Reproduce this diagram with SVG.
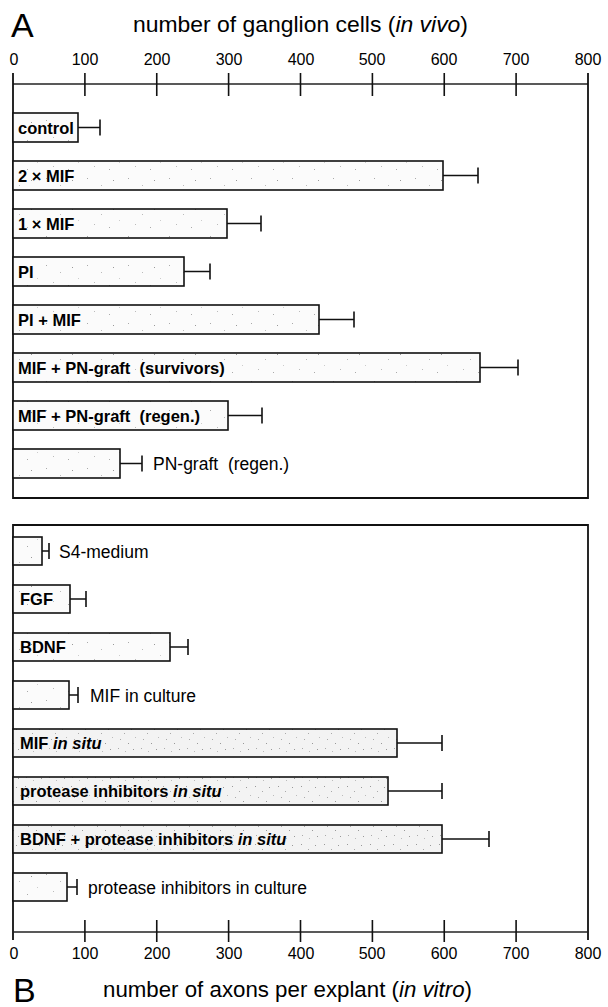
<svg xmlns="http://www.w3.org/2000/svg" width="608" height="1007" viewBox="0 0 608 1007">
  <style>
    .frame { fill: none; stroke: #111; stroke-width: 1.8; }
    .axis { fill: none; stroke: #222; stroke-width: 1.5; }
    .tick { stroke: #111; stroke-width: 1.6; }
    .bar { stroke: #111; stroke-width: 1.6; }
    .err { fill: none; stroke: #111; stroke-width: 1.6; }
    .ticklab { font-family: "Liberation Sans", Arial, sans-serif; font-size: 16px; fill: #000; text-anchor: middle; }
    .title { font-family: "Liberation Sans", Arial, sans-serif; font-size: 22.4px; fill: #000; }
    .panel { font-family: "Liberation Sans", Arial, sans-serif; font-size: 34px; fill: #000; }
    .in { font-family: "Liberation Sans", Arial, sans-serif; font-size: 16.5px; font-weight: bold; fill: #000; white-space: pre; }
    .out { font-family: "Liberation Sans", Arial, sans-serif; font-size: 17.5px; fill: #000; white-space: pre; }
  </style>
  <defs>
    <!-- light stipple used for most bars -->
    <pattern id="stipLight" width="41" height="29" patternUnits="userSpaceOnUse">
      <rect width="41" height="29" fill="#fbfbfb"/>
      <rect x="5" y="4" width="1" height="1" fill="#aaa"/>
      <rect x="19" y="11" width="1" height="1" fill="#bbb"/>
      <rect x="31" y="6" width="1" height="1" fill="#999"/>
      <rect x="12" y="21" width="1" height="1" fill="#bbb"/>
      <rect x="27" y="24" width="1" height="1" fill="#aaa"/>
      <rect x="37" y="17" width="1" height="1" fill="#ccc"/>
    </pattern>
    <!-- denser stipple for the in situ bars -->
    <pattern id="stipDense" width="23" height="29" patternUnits="userSpaceOnUse">
      <rect width="23" height="29" fill="#f3f3f3"/>
      <rect x="2" y="3" width="1" height="1" fill="#999"/>
      <rect x="9" y="8" width="1" height="1" fill="#aaa"/>
      <rect x="16" y="4" width="1" height="1" fill="#999"/>
      <rect x="5" y="14" width="1" height="1" fill="#aaa"/>
      <rect x="13" y="18" width="1" height="1" fill="#999"/>
      <rect x="20" y="12" width="1" height="1" fill="#bbb"/>
      <rect x="3" y="23" width="1" height="1" fill="#aaa"/>
      <rect x="18" y="24" width="1" height="1" fill="#999"/>
      <rect x="10" y="26" width="1" height="1" fill="#bbb"/>
    </pattern>
  </defs>

  <rect width="608" height="1007" fill="#fff"/>

  <!-- panel A: axis, frame and titles -->
  <g id="axisA">
    <text class="panel" x="11" y="37">A</text>
    <text class="title" x="133" y="32" textLength="335" lengthAdjust="spacingAndGlyphs">number of ganglion cells (<tspan font-style="italic">in vivo</tspan>)</text>
    <line class="axis" x1="13" y1="84" x2="588" y2="84"/>
    <path class="frame" d="M13 73 V498 H588 V73"/>
    <g class="tick">
      <line x1="84.9" y1="73" x2="84.9" y2="96"/>
      <line x1="156.75" y1="73" x2="156.75" y2="96"/>
      <line x1="228.6" y1="73" x2="228.6" y2="96"/>
      <line x1="300.5" y1="73" x2="300.5" y2="96"/>
      <line x1="372.4" y1="73" x2="372.4" y2="96"/>
      <line x1="444.25" y1="73" x2="444.25" y2="96"/>
      <line x1="516.1" y1="73" x2="516.1" y2="96"/>
    </g>
    <g>
      <text class="ticklab" x="14" y="65">0</text>
      <text class="ticklab" x="85" y="65">100</text>
      <text class="ticklab" x="157" y="65">200</text>
      <text class="ticklab" x="229" y="65">300</text>
      <text class="ticklab" x="301" y="65">400</text>
      <text class="ticklab" x="372" y="65">500</text>
      <text class="ticklab" x="444" y="65">600</text>
      <text class="ticklab" x="516" y="65">700</text>
      <text class="ticklab" x="588" y="65">800</text>
    </g>
  </g>

  <!-- panel A bars -->
  <g id="control">
    <rect class="bar" x="13" y="113" width="65" height="29" fill="url(#stipLight)"/>
    <path class="err" d="M78 127.5 H100 M100 119.5 V135.5"/>
    <text class="in" x="18" y="134">control</text>
  </g>
  <g id="mif2x">
    <rect class="bar" x="13" y="161" width="430" height="29" fill="url(#stipLight)"/>
    <path class="err" d="M443 175.5 H478 M478 167.5 V183.5"/>
    <text class="in" x="18" y="182">2 × MIF</text>
  </g>
  <g id="mif1x">
    <rect class="bar" x="13" y="209" width="214" height="29" fill="url(#stipLight)"/>
    <path class="err" d="M227 223.5 H261 M261 215.5 V231.5"/>
    <text class="in" x="18" y="230">1 × MIF</text>
  </g>
  <g id="pi">
    <rect class="bar" x="13" y="257" width="171" height="29" fill="url(#stipLight)"/>
    <path class="err" d="M184 271.5 H210 M210 263.5 V279.5"/>
    <text class="in" x="18" y="278">PI</text>
  </g>
  <g id="piMif">
    <rect class="bar" x="13" y="305" width="306" height="29" fill="url(#stipLight)"/>
    <path class="err" d="M319 319.5 H354 M354 311.5 V327.5"/>
    <text class="in" x="18" y="326">PI + MIF</text>
  </g>
  <g id="mifPnSurvivors">
    <rect class="bar" x="13" y="353" width="467" height="29" fill="url(#stipLight)"/>
    <path class="err" d="M480 367.5 H518 M518 359.5 V375.5"/>
    <text class="in" x="18" y="374">MIF + PN-graft  (survivors)</text>
  </g>
  <g id="mifPnRegen">
    <rect class="bar" x="13" y="401" width="215" height="29" fill="url(#stipLight)"/>
    <path class="err" d="M228 415.5 H262 M262 407.5 V423.5"/>
    <text class="in" x="18" y="422">MIF + PN-graft  (regen.)</text>
  </g>
  <g id="pnRegen">
    <rect class="bar" x="13" y="449" width="107" height="29" fill="url(#stipLight)"/>
    <path class="err" d="M120 463.5 H142 M142 455.5 V471.5"/>
    <text class="out" x="153" y="470">PN-graft  (regen.)</text>
  </g>

  <!-- panel B: axis, frame and titles -->
  <g id="axisB">
    <path class="frame" d="M13 940 V525 H588 V940"/>
    <line class="axis" x1="13" y1="932" x2="588" y2="932" stroke-width="2"/>
    <g class="tick">
      <line x1="84.9" y1="920" x2="84.9" y2="942"/>
      <line x1="156.75" y1="920" x2="156.75" y2="942"/>
      <line x1="228.6" y1="920" x2="228.6" y2="942"/>
      <line x1="300.5" y1="920" x2="300.5" y2="942"/>
      <line x1="372.4" y1="920" x2="372.4" y2="942"/>
      <line x1="444.25" y1="920" x2="444.25" y2="942"/>
      <line x1="516.1" y1="920" x2="516.1" y2="942"/>
    </g>
    <g>
      <text class="ticklab" x="14" y="959">0</text>
      <text class="ticklab" x="85" y="959">100</text>
      <text class="ticklab" x="157" y="959">200</text>
      <text class="ticklab" x="229" y="959">300</text>
      <text class="ticklab" x="301" y="959">400</text>
      <text class="ticklab" x="372" y="959">500</text>
      <text class="ticklab" x="444" y="959">600</text>
      <text class="ticklab" x="516" y="959">700</text>
      <text class="ticklab" x="588" y="959">800</text>
    </g>
    <text class="panel" x="13" y="1002">B</text>
    <text class="title" x="103" y="997" textLength="369" lengthAdjust="spacingAndGlyphs">number of axons per explant (<tspan font-style="italic">in vitro</tspan>)</text>
  </g>

  <!-- panel B bars -->
  <g id="s4medium">
    <rect class="bar" x="13" y="537" width="29" height="28" fill="url(#stipLight)"/>
    <path class="err" d="M42 551 H49 M49 543 V559"/>
    <text class="out" x="59" y="558">S4-medium</text>
  </g>
  <g id="fgf">
    <rect class="bar" x="13" y="585" width="57" height="28" fill="url(#stipLight)"/>
    <path class="err" d="M70 599 H86 M86 591 V607"/>
    <text class="in" x="20" y="605">FGF</text>
  </g>
  <g id="bdnf">
    <rect class="bar" x="13" y="633" width="157" height="28" fill="url(#stipLight)"/>
    <path class="err" d="M170 647 H188 M188 639 V655"/>
    <text class="in" x="20" y="653">BDNF</text>
  </g>
  <g id="mifCulture">
    <rect class="bar" x="13" y="681" width="56" height="28" fill="url(#stipLight)"/>
    <path class="err" d="M69 695 H78 M78 687 V703"/>
    <text class="out" x="90" y="702">MIF in culture</text>
  </g>
  <g id="mifInSitu">
    <rect class="bar" x="13" y="729" width="384" height="28" fill="url(#stipDense)"/>
    <path class="err" d="M397 743 H442 M442 735 V751"/>
    <text class="in" x="20" y="749">MIF <tspan font-style="italic">in situ</tspan></text>
  </g>
  <g id="piInSitu">
    <rect class="bar" x="13" y="777" width="375" height="28" fill="url(#stipDense)"/>
    <path class="err" d="M388 791 H442 M442 783 V799"/>
    <text class="in" x="20" y="797">protease inhibitors <tspan font-style="italic">in situ</tspan></text>
  </g>
  <g id="bdnfPiInSitu">
    <rect class="bar" x="13" y="825" width="429" height="28" fill="url(#stipDense)"/>
    <path class="err" d="M442 839 H489 M489 831 V847"/>
    <text class="in" x="20" y="845">BDNF + protease inhibitors <tspan font-style="italic">in situ</tspan></text>
  </g>
  <g id="piCulture">
    <rect class="bar" x="13" y="873" width="54" height="28" fill="url(#stipLight)"/>
    <path class="err" d="M67 887 H77 M77 879 V895"/>
    <text class="out" x="88" y="894">protease inhibitors in culture</text>
  </g>
</svg>
